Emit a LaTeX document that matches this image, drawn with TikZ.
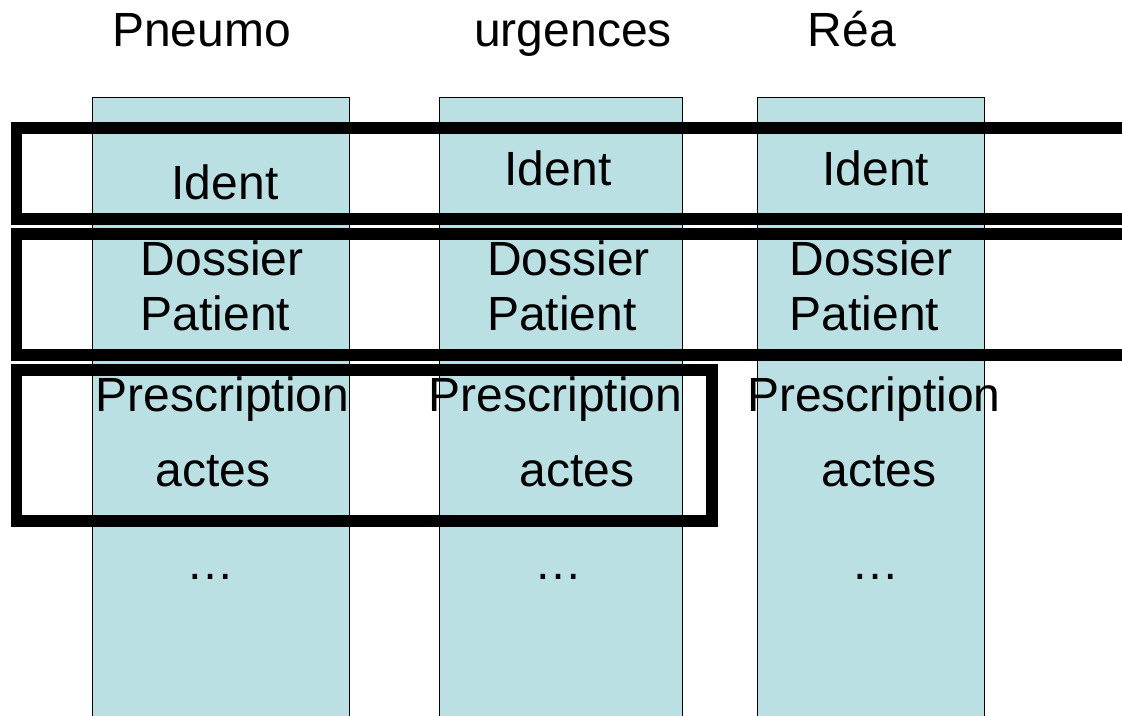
\documentclass[tikz,border=0pt]{standalone}
\usepackage{fontspec}
\setmainfont{Liberation Sans}
\usepackage{xcolor}
\usetikzlibrary{positioning}
\definecolor{colfill}{RGB}{187,224,227}

\begin{document}
\begin{tikzpicture}[x=0.75pt,y=0.75pt,yscale=-1,xscale=1,
  column/.style={draw=black,fill=colfill,line width=0.75},
  group/.style={draw=black,line width=8.8},
  lbl/.style={inner sep=0pt,anchor=base,font=\fontsize{36}{43}\selectfont},
  lbll/.style={lbl,anchor=base west}]
\useasboundingbox (0,0) rectangle (1122,715);
\clip (0,0) rectangle (1122,715);

%Shape: Rectangle [column Pneumo]
\draw [column] (92,97.7) rectangle (349,725);
%Shape: Rectangle [column urgences]
\draw [column] (439.5,97.7) rectangle (682,725);
%Shape: Rectangle [column Rea]
\draw [column] (757,97.7) rectangle (984,725);

%Shape: Rectangle [group Ident]
\draw [group] (16.5,128) rectangle (1140,219);
%Shape: Rectangle [group Dossier]
\draw [group] (16.5,234) rectangle (1140,355);
%Shape: Rectangle [group Prescription]
\draw [group] (16.5,370) rectangle (712,521);

% Text Node
\node [lbl] (hdrPneumo) at (201.5,46.7) {Pneumo};
% Text Node
\node [lbl] (hdrUrg) at (573,46.7) {urgences};
% Text Node
\node [lbl] (hdrRea) at (852,46.7) {Réa};

% Text Node
\node [lbl] (identPneumo) at (225,199) {Ident};
% Text Node
\node [lbl] (identUrg) at (558,185) {Ident};
% Text Node
\node [lbl] (identRea) at (875.7,185) {Ident};

% Text Node
\node [lbll] (dosPneumo) at (140.5,275) {Dossier};
\node [lbll] (patPneumo) at (140.5,330.7) {Patient};
% Text Node
\node [lbll] (dosUrg) at (487,275) {Dossier};
\node [lbll] (patUrg) at (487,330.7) {Patient};
% Text Node
\node [lbll] (dosRea) at (789.5,275) {Dossier};
\node [lbll] (patRea) at (789.5,330.7) {Patient};

% Text Node
\node [lbl] (prePneumo) at (222.5,411.7) {Prescription};
\node [lbl] (actPneumo) at (213,486.7) {actes};
% Text Node
\node [lbl] (preUrg) at (555.5,411.7) {Prescription};
\node [lbl] (actUrg) at (576.7,486.7) {actes};
% Text Node
\node [lbl] (preRea) at (874,411.7) {Prescription};
\node [lbl] (actRea) at (879.3,486.7) {actes};

% Text Node
\node [lbl] (dotsPneumo) at (210.5,579) {…};
% Text Node
\node [lbl] (dotsUrg) at (558.5,579) {…};
% Text Node
\node [lbl] (dotsRea) at (875.8,579) {…};

\end{tikzpicture}
\end{document}
